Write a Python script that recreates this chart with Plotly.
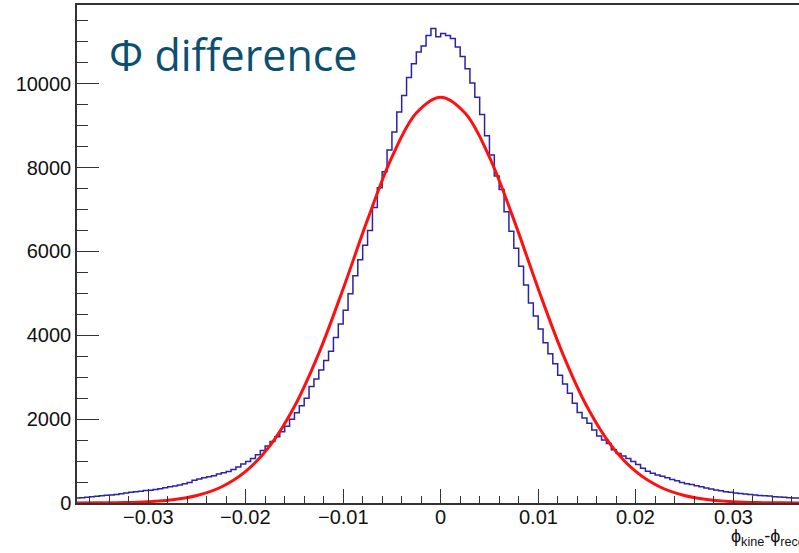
import numpy as np
import plotly.graph_objects as go

# Histogram: phi_kine - phi_reco, bins of width 0.0005 starting at -0.0375
bin_start = -0.0375
bin_width = 0.0005
counts = [
    120, 128, 135, 150, 160, 170, 182, 190, 205, 222,
    240, 255, 268, 280, 296, 305, 322, 340, 362, 385,
    405, 430, 458, 490, 540, 570, 605, 625, 650, 690,
    720, 750, 800, 860, 930, 990, 1060, 1150, 1250, 1360,
    1470, 1580, 1700, 1830, 2000, 2150, 2320, 2500, 2780, 2960,
    3170, 3400, 3620, 3950, 4270, 4600, 4990, 5420, 5800, 6150,
    6500, 7050, 7520, 7900, 8420, 8850, 9330, 9720, 10150, 10480,
    10760, 10900, 11150, 11320, 11120, 11200, 11150, 11080, 10880, 10650,
    10360, 10020, 9680, 9270, 8760, 8300, 7800, 7480, 6950, 6480,
    6080, 5650, 5200, 4770, 4460, 4150, 3820, 3560, 3320, 3050,
    2840, 2620, 2380, 2160, 2030, 1900, 1740, 1600, 1500, 1420,
    1270, 1180, 1120, 1060, 990, 920, 830, 760, 710, 670,
    640, 600, 560, 530, 490, 460, 440, 410, 385, 360,
    335, 310, 290, 270, 258, 240, 225, 215, 200, 190,
    180, 172, 165, 150, 145, 135, 128, 122, 118, 112,
]

# Gaussian fit curve, read at x steps of 0.0025
fit_x = [-0.0375, -0.035, -0.0325, -0.03, -0.0275, -0.025, -0.0225, -0.02,
         -0.0175, -0.015, -0.0125, -0.01, -0.0075, -0.005, -0.0025, 0.0,
         0.0025, 0.005, 0.0075, 0.01, 0.0125, 0.015, 0.0175, 0.02,
         0.0225, 0.025, 0.0275, 0.03, 0.0325, 0.035, 0.0375]
fit_y = [1, 4, 11, 31, 77, 179, 382, 753, 1370, 2302, 3570, 5112, 6760, 8252,
         9302, 9680, 9302, 8252, 6760, 5112, 3570, 2302, 1370, 753, 382, 179,
         77, 31, 11, 4, 1]

y_ticks = [0, 2000, 4000, 6000, 8000, 10000]
x_ticks = [-0.03, -0.02, -0.01, 0.0, 0.01, 0.02, 0.03]
x_tick_text = ["\u22120.03", "\u22120.02", "\u22120.01", "0", "0.01", "0.02", "0.03"]

edges = bin_start + bin_width * np.arange(len(counts) + 1)
step_y = counts + [counts[-1]]

fig = go.Figure()
fig.add_trace(go.Scatter(
    x=edges, y=step_y, mode="lines", line_shape="hv",
    line=dict(color="#2a22a8", width=1.5), showlegend=False,
))
fig.add_trace(go.Scatter(
    x=fit_x, y=fit_y, mode="lines", line_shape="spline",
    line=dict(color="#ff1010", width=3), showlegend=False,
))

axis_col = "#333333"
label_font = dict(size=20, family="Liberation Sans, Arial, sans-serif", color="#111111")

annotations = [
    dict(text="\u03a6 difference", xref="paper", yref="paper",
         x=(107 - 77) / 722, y=1 - (54 - 5) / 498, xanchor="left", yanchor="middle",
         showarrow=False, font=dict(family="Open Sans", size=43, color="#0b4f71")),
    dict(text="\u03d5<sub>kine</sub>-\u03d5<sub>reco</sub>", xref="paper", yref="paper",
         x=(729 - 77) / 722, y=0, yshift=-21, xanchor="left", yanchor="top",
         showarrow=False, font=dict(family="Liberation Sans, Arial, sans-serif", size=18, color="#111111")),
]
for xv, txt in zip(x_ticks, x_tick_text):
    annotations.append(dict(text=txt, xref="x", yref="paper", x=xv, y=0, yshift=-1,
                            xanchor="center", yanchor="top", showarrow=False, font=label_font))

fig.update_layout(
    width=799, height=553,
    margin=dict(l=77, r=0, t=5, b=50),
    paper_bgcolor="white", plot_bgcolor="white",
    font=dict(family="Liberation Sans, Arial, sans-serif", color="#111111"),
    xaxis=dict(
        range=[-0.0373, 0.03675], showgrid=False, zeroline=False,
        showline=True, linecolor=axis_col, linewidth=1.5, mirror=True,
        ticks="inside", ticklen=14, tickwidth=1.2, tickcolor=axis_col,
        tickvals=x_ticks, showticklabels=False,
        minor=dict(ticks="inside", ticklen=7, dtick=0.002, tick0=0, tickcolor=axis_col, tickwidth=1.2),
    ),
    yaxis=dict(
        range=[0, 11880], showgrid=False, zeroline=False,
        showline=True, linecolor=axis_col, linewidth=1.5,
        ticks="inside", ticklen=22, tickwidth=1.2, tickcolor=axis_col,
        tickvals=y_ticks, ticktext=[str(v) for v in y_ticks],
        tickfont=label_font,
        minor=dict(ticks="inside", ticklen=11, dtick=500, tick0=0, tickcolor=axis_col, tickwidth=1.2),
        ticklabelstandoff=0,
    ),
    annotations=annotations,
)

fig.write_html("out.html")
